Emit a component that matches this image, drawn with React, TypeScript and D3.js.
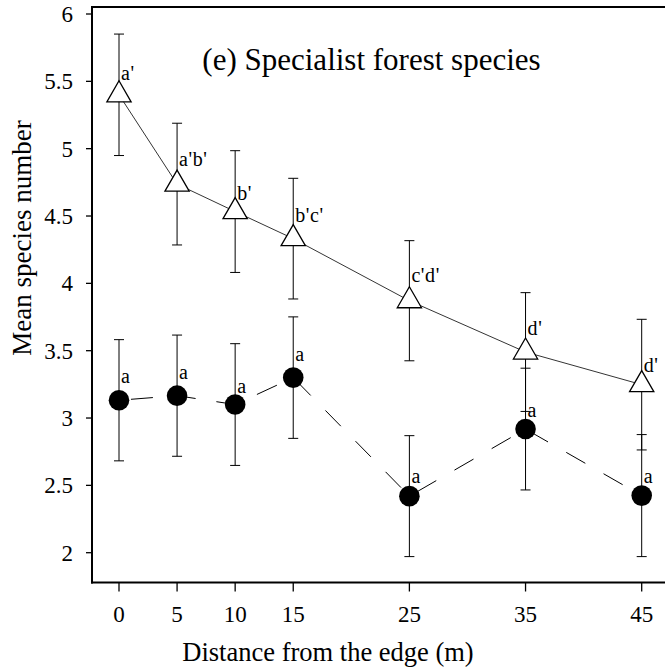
import React from "react";
import * as d3 from "d3";

const distances = [0, 5, 10, 15, 25, 35, 45];
const triMean = [5.4, 4.737, 4.533, 4.332, 3.871, 3.49, 3.248];
const triErr = [0.451, 0.452, 0.452, 0.448, 0.446, 0.441, 0.485];
const triLetters = ["a'", "a'b'", "b'", "b'c'", "c'd'", "d'", "d'"];
const triLabelLift = [0.11, 0.137, 0.086, 0.126, 0.142, 0.127, 0.097];

const circMean = [3.132, 3.166, 3.1, 3.3, 2.42, 2.918, 2.424];
const circErr = [0.45, 0.45, 0.452, 0.451, 0.449, 0.452, 0.453];
const circLetters = ["a", "a", "a", "a", "a", "a", "a"];
const circLabelLift = [0.126, 0.123, 0.089, 0.126, 0.096, 0.088, 0.092];

const yTicks = [2, 2.5, 3, 3.5, 4, 4.5, 5, 5.5, 6];
const yTickLabels = ["2", "2.5", "3", "3.5", "4", "4.5", "5", "5.5", "6"];
const xTickLabels = ["0", "5", "10", "15", "25", "35", "45"];

const title = "(e) Specialist forest species";
const xTitle = "Distance from the edge (m)";
const yTitle = "Mean species number";

const W = 665;
const H = 672;
const FONT = "'Liberation Serif', 'Times New Roman', serif";

export default function App() {
  const x = d3.scaleLinear().domain([0, 45]).range([119, 641.7]);
  const y = d3.scaleLinear().domain([2, 6]).range([552.7, 14]);
  const axL = 92;
  const axB = 582.5;
  const axT = 7;

  const line = d3
    .line<number>()
    .x((_, i) => x(distances[i]))
    .y((d) => y(d));

  const tri = d3.symbol().type(d3.symbolTriangle).size(255)()!;
  const cap = 5;

  const errBars = (means: number[], errs: number[], key: string) =>
    means.map((m, i) => {
      const cx = x(distances[i]);
      const t = y(m + errs[i]);
      const b = y(m - errs[i]);
      return (
        <g key={key + i} stroke="#000" strokeWidth={1}>
          <line x1={cx} x2={cx} y1={t} y2={b} />
          <line x1={cx - cap} x2={cx + cap} y1={t} y2={t} />
          <line x1={cx - cap} x2={cx + cap} y1={b} y2={b} />
        </g>
      );
    });

  return (
    <svg
      width={W}
      height={H}
      style={{ position: "absolute", left: 0, top: 0, display: "block", background: "#fff" }}
      fontFamily={FONT}
    >
      <rect x={0} y={0} width={W} height={H} fill="#fff" />
      {/* frame */}
      <line x1={axL} x2={W} y1={axT} y2={axT} stroke="#000" strokeWidth={2} />
      <line x1={axL} x2={axL} y1={axT - 1} y2={axB + 1} stroke="#000" strokeWidth={2} />
      <line x1={axL - 1} x2={W} y1={axB} y2={axB} stroke="#000" strokeWidth={2} />

      {/* y ticks */}
      {yTicks.map((t, i) => (
        <g key={"yt" + i}>
          <line x1={axL - 6} x2={axL} y1={y(t)} y2={y(t)} stroke="#000" strokeWidth={1.3} />
          <text x={73} y={y(t)} dy="0.35em" textAnchor="end" fontSize={23}>
            {yTickLabels[i]}
          </text>
        </g>
      ))}
      {/* x ticks */}
      {distances.map((d, i) => (
        <g key={"xt" + i}>
          <line x1={x(d)} x2={x(d)} y1={axB} y2={axB + 9} stroke="#000" strokeWidth={1.3} />
          <text x={x(d)} y={622} textAnchor="middle" fontSize={23}>
            {xTickLabels[i]}
          </text>
        </g>
      ))}

      {/* titles */}
      <text x={371.5} y={69.5} textAnchor="middle" fontSize={31}>
        {title}
      </text>
      <text x={328} y={661} textAnchor="middle" fontSize={26.5}>
        {xTitle}
      </text>
      <text
        transform={`translate(31,238) rotate(-90)`}
        textAnchor="middle"
        fontSize={27}
      >
        {yTitle}
      </text>

      {/* lines */}
      <path d={line(triMean)!} fill="none" stroke="#000" strokeWidth={0.8} />
      <path
        d={line(circMean)!}
        fill="none"
        stroke="#000"
        strokeWidth={1}
        strokeDasharray="22,21"
        strokeDashoffset={-12}
      />

      {/* error bars */}
      {errBars(circMean, circErr, "ce")}
      {errBars(triMean, triErr, "te")}

      {/* markers */}
      {circMean.map((m, i) => (
        <circle key={"c" + i} cx={x(distances[i])} cy={y(m)} r={10.3} fill="#000" />
      ))}
      {triMean.map((m, i) => (
        <path
          key={"t" + i}
          d={tri}
          transform={`translate(${x(distances[i])},${y(m)})`}
          fill="#fff"
          stroke="#000"
          strokeWidth={1.3}
        />
      ))}

      {/* letters */}
      {triMean.map((m, i) => (
        <text
          key={"tl" + i}
          x={x(distances[i]) + 2}
          y={y(m + triLabelLift[i])}
          fontSize={20}
          letterSpacing={0.6}
        >
          {triLetters[i]}
        </text>
      ))}
      {circMean.map((m, i) => (
        <text
          key={"cl" + i}
          x={x(distances[i]) + 2}
          y={y(m + circLabelLift[i])}
          fontSize={20}
        >
          {circLetters[i]}
        </text>
      ))}
    </svg>
  );
}
